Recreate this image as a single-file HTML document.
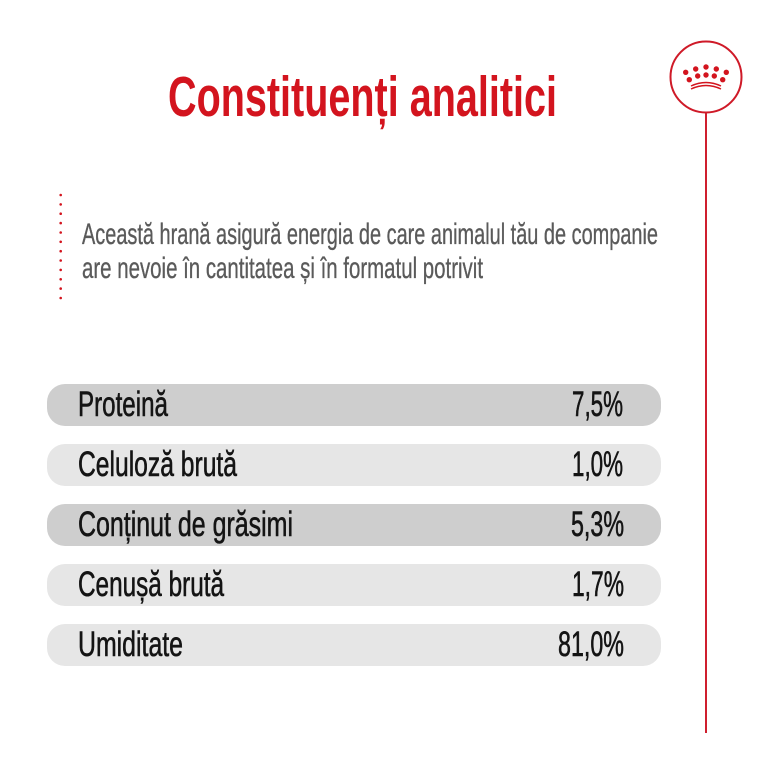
<!DOCTYPE html>
<html><head><meta charset="utf-8"><style>
html,body{margin:0;padding:0;background:#fff;}
svg{display:block;}
text{font-family:"Liberation Sans Narrow","Liberation Sans","DejaVu Sans Condensed",sans-serif;}
</style></head><body>
<svg width="768" height="768" viewBox="0 0 768 768" xmlns="http://www.w3.org/2000/svg">
<rect width="768" height="768" fill="#ffffff"/>
<!-- title -->
<text x="168" y="116" font-size="57" font-weight="bold" fill="#d3141e" textLength="389" lengthAdjust="spacingAndGlyphs">Constituenți analitici</text>
<!-- crown circle -->
<circle cx="706" cy="77" r="35.5" fill="none" stroke="#cf1a28" stroke-width="2"/>
<line x1="706" y1="112.5" x2="706" y2="733" stroke="#cf1f2e" stroke-width="2"/>
<g fill="#d3141e">
<circle cx="685.7" cy="72.3" r="2.7"/><circle cx="695.7" cy="69" r="2.7"/><circle cx="706" cy="67" r="2.7"/><circle cx="716.3" cy="69" r="2.7"/><circle cx="726.3" cy="72.3" r="2.7"/>
<circle cx="689.3" cy="79.7" r="2.7"/><circle cx="697.7" cy="76" r="2.7"/><circle cx="706" cy="75" r="2.7"/><circle cx="714.3" cy="76" r="2.7"/><circle cx="722.7" cy="79.7" r="2.7"/>
</g>
<path d="M691 86 Q706 79 721 86" fill="none" stroke="#d3141e" stroke-width="1.5"/>
<path d="M691 89 Q706 82 721 89" fill="none" stroke="#d3141e" stroke-width="1.5"/>
<!-- dotted line -->
<g fill="#d3141e">
<circle cx="60.7" cy="195" r="1.3"/><circle cx="60.7" cy="204.4" r="1.3"/><circle cx="60.7" cy="213.7" r="1.3"/><circle cx="60.7" cy="223.1" r="1.3"/><circle cx="60.7" cy="232.5" r="1.3"/><circle cx="60.7" cy="241.8" r="1.3"/><circle cx="60.7" cy="251.2" r="1.3"/><circle cx="60.7" cy="260.5" r="1.3"/><circle cx="60.7" cy="269.9" r="1.3"/><circle cx="60.7" cy="279.3" r="1.3"/><circle cx="60.7" cy="288.6" r="1.3"/><circle cx="60.7" cy="298" r="1.3"/>
</g>
<!-- paragraph -->
<g font-size="30" fill="#5a5a5a" stroke="#5a5a5a" stroke-width="0.35">
<text x="82" y="244" textLength="576" lengthAdjust="spacingAndGlyphs">Această hrană asigură energia de care animalul tău de companie</text>
<text x="82" y="278" textLength="401" lengthAdjust="spacingAndGlyphs">are nevoie în cantitatea și în formatul potrivit</text>
</g>
<!-- rows -->
<rect x="47" y="384" width="614" height="42" rx="18" fill="#cecece"/>
<rect x="47" y="444" width="614" height="42" rx="18" fill="#e6e6e6"/>
<rect x="47" y="504" width="614" height="42" rx="18" fill="#cecece"/>
<rect x="47" y="564" width="614" height="42" rx="18" fill="#e6e6e6"/>
<rect x="47" y="624" width="614" height="42" rx="18" fill="#e6e6e6"/>
<g font-size="35" fill="#141414" stroke="#141414" stroke-width="0.6">
<text x="78" y="416" textLength="90" lengthAdjust="spacingAndGlyphs">Proteină</text>
<text x="78" y="476" textLength="159" lengthAdjust="spacingAndGlyphs">Celuloză brută</text>
<text x="78" y="536" textLength="215" lengthAdjust="spacingAndGlyphs">Conținut de grăsimi</text>
<text x="78" y="596" textLength="146" lengthAdjust="spacingAndGlyphs">Cenușă brută</text>
<text x="78" y="656" textLength="105" lengthAdjust="spacingAndGlyphs">Umiditate</text>
<text x="572" y="416" textLength="51" lengthAdjust="spacingAndGlyphs">7,5%</text>
<text x="572" y="476" textLength="51" lengthAdjust="spacingAndGlyphs">1,0%</text>
<text x="571" y="536" textLength="53" lengthAdjust="spacingAndGlyphs">5,3%</text>
<text x="572" y="596" textLength="52" lengthAdjust="spacingAndGlyphs">1,7%</text>
<text x="558" y="656" textLength="66" lengthAdjust="spacingAndGlyphs">81,0%</text>
</g>
</svg>
</body></html>
